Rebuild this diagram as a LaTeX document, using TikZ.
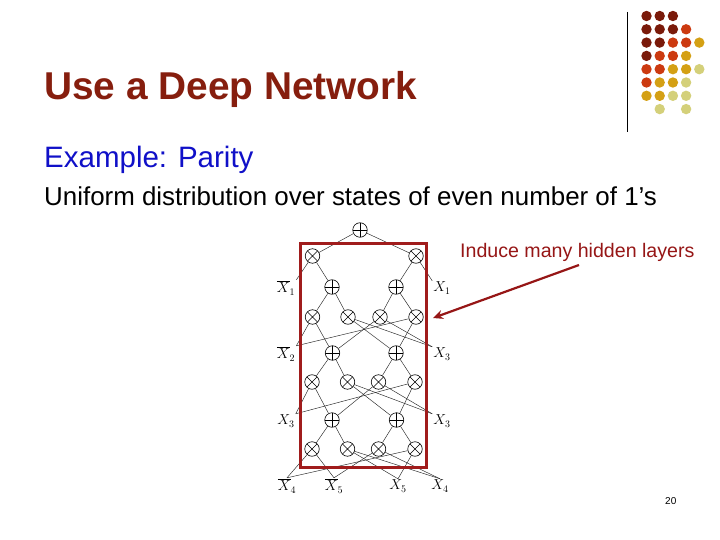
\documentclass[tikz,border=0pt]{standalone}
\usepackage{fontspec}
\setmainfont{Liberation Sans}
\usetikzlibrary{arrows.meta}
\definecolor{titlered}{RGB}{134,30,14}
\definecolor{exblue}{RGB}{16,16,200}
\definecolor{annred}{RGB}{150,22,22}
\definecolor{boxred}{RGB}{160,28,28}
\definecolor{dotM}{RGB}{122,26,10}
\definecolor{dotR}{RGB}{204,58,16}
\definecolor{dotG}{RGB}{212,160,20}
\definecolor{dotP}{RGB}{212,208,122}
\tikzset{
  gate/.style={circle,draw,fill=white,minimum size=14.5pt,inner sep=0pt,line width=0.6pt},
  oplus/.style={gate,path picture={\draw[line width=0.8pt] (path picture bounding box.north) -- (path picture bounding box.south) (path picture bounding box.west) -- (path picture bounding box.east);}},
  otimes/.style={gate,path picture={\draw[line width=0.5pt] (path picture bounding box.north west) -- (path picture bounding box.south east) (path picture bounding box.north east) -- (path picture bounding box.south west);}},
  lab/.style={inner sep=1pt,font=\fontsize{14.5}{15}\selectfont},
  wire/.style={line width=0.45pt,draw=black!85},
}
\begin{document}
\begin{tikzpicture}[x=1pt,y=-1pt]
\useasboundingbox[fill=white] (0,0) rectangle (720,540);
% decoration
\draw[line width=0.8pt] (627,12) -- (627,132);
\foreach \c/\r/\col in {0/0/dotM,1/0/dotM,2/0/dotM,
  0/1/dotM,1/1/dotM,2/1/dotM,3/1/dotR,
  0/2/dotM,1/2/dotM,2/2/dotR,3/2/dotR,4/2/dotG,
  0/3/dotM,1/3/dotR,2/3/dotR,3/3/dotG,
  0/4/dotR,1/4/dotR,2/4/dotG,3/4/dotG,4/4/dotP,
  0/5/dotR,1/5/dotG,2/5/dotG,3/5/dotP,
  0/6/dotG,1/6/dotG,2/6/dotP,3/6/dotP,
  1/7/dotP,3/7/dotP}
  \fill[\col] (646.5+13.2*\c,16+13.3*\r) circle (5.2pt);
% texts
\node[anchor=base west,inner sep=0pt,text=titlered,font=\fontsize{38.8}{40}\selectfont\bfseries] (title) at (44,100) {Use a Deep Network};
\node[anchor=base west,inner sep=0pt,text=exblue,font=\fontsize{29.5}{31}\selectfont] (ex) at (44,168) {Example: Parity};
\node[anchor=base west,inner sep=0pt,font=\fontsize{25.9}{27}\selectfont] (unif) at (44,206) {Uniform distribution over states of even number of 1’s};
\node[anchor=base west,inner sep=0pt,text=annred,font=\fontsize{19.6}{21}\selectfont] (ann) at (460,257) {Induce many hidden layers};
\node[anchor=base west,inner sep=0pt,font=\fontsize{10}{11}\selectfont] (pg) at (665,504) {20};
% gates
\node[oplus] (t) at (360,230) {};
\node[otimes] (a1) at (312.5,256) {};
\node[otimes] (a2) at (416,256) {};
\node[oplus] (b1) at (332,287) {};
\node[oplus] (b2) at (396,287) {};
\node[otimes] (c1) at (312.5,317) {};
\node[otimes] (c2) at (348,317) {};
\node[otimes] (c3) at (380,317) {};
\node[otimes] (c4) at (416,317) {};
\node[oplus] (d1) at (332.5,353) {};
\node[oplus] (d2) at (396,353) {};
\node[otimes] (f1) at (312,382) {};
\node[otimes] (f2) at (347.5,382) {};
\node[otimes] (f3) at (378.5,382) {};
\node[otimes] (f4) at (415,382) {};
\node[oplus] (e1) at (332,420) {};
\node[oplus] (e2) at (396.5,420) {};
\node[otimes] (g1) at (312,449) {};
\node[otimes] (g2) at (347.5,449) {};
\node[otimes] (g3) at (378.5,449) {};
\node[otimes] (g4) at (415,449) {};
% labels
\node[lab] (lx1) at (286,288) {$\overline{X}_1$};
\node[lab] (rx1) at (442,288) {$X_1$};
\node[lab] (lx2) at (286,354) {$\overline{X}_2$};
\node[lab] (rx2) at (442,354) {$X_3$};
\node[lab] (lx3) at (286,421) {$X_3$};
\node[lab] (rx3) at (442,421) {$X_3$};
\node[lab] (lx4) at (287,486) {$\overline{X}_4$};
\node[lab] (lx5) at (334,486) {$\overline{X}_5$};
\node[lab] (rx5) at (398,486) {$X_5$};
\node[lab] (rx4) at (440,486) {$X_4$};
% wires
\draw[wire] (t) -- (a1);
\draw[wire] (t) -- (a2);
\draw[wire] (a1) -- (lx1.north east);
\draw[wire] (a1) -- (b1);
\draw[wire] (a2) -- (b2);
\draw[wire] (a2) -- (rx1.north west);
\draw[wire] (b1) -- (c1);
\draw[wire] (b1) -- (c2);
\draw[wire] (b2) -- (c3);
\draw[wire] (b2) -- (c4);
\draw[wire] (c1) -- (lx2.north east);
\draw[wire] (c1) -- (d1);
\draw[wire] (c2) -- (rx2.north west);
\draw[wire] (c2) -- (d2);
\draw[wire] (c3) -- (rx2.north west);
\draw[wire] (c3) -- (d1);
\draw[wire] (c4) -- (lx2.north east);
\draw[wire] (c4) -- (d2);
\draw[wire] (d1) -- (f1);
\draw[wire] (d1) -- (f2);
\draw[wire] (d2) -- (f3);
\draw[wire] (d2) -- (f4);
\draw[wire] (f1) -- (lx3.north east);
\draw[wire] (f1) -- (e1);
\draw[wire] (f2) -- (rx3.north west);
\draw[wire] (f2) -- (e2);
\draw[wire] (f3) -- (rx3.north west);
\draw[wire] (f3) -- (e1);
\draw[wire] (f4) -- (lx3.north east);
\draw[wire] (f4) -- (e2);
\draw[wire] (e1) -- (g1);
\draw[wire] (e1) -- (g2);
\draw[wire] (e2) -- (g3);
\draw[wire] (e2) -- (g4);
\draw[wire] (g1) -- (lx4.north);
\draw[wire] (g1) -- (lx5.north);
\draw[wire] (g2) -- (rx5.north);
\draw[wire] (g2) -- (rx4.north);
\draw[wire] (g3) -- (lx5.north);
\draw[wire] (g3) -- (rx4.north);
\draw[wire] (g4) -- (lx4.north);
\draw[wire] (g4) -- (rx5.north);
% red box
\draw[boxred,line width=3pt] (300.5,243.5) rectangle (426.5,467);
% arrow
\coordinate (arrS) at (579,265);
\coordinate (arrE) at (433,318);
\draw[annred,line width=2.2pt,-{Stealth[length=10pt,width=9pt]}] (arrS) -- (arrE);
\end{tikzpicture}
\end{document}
